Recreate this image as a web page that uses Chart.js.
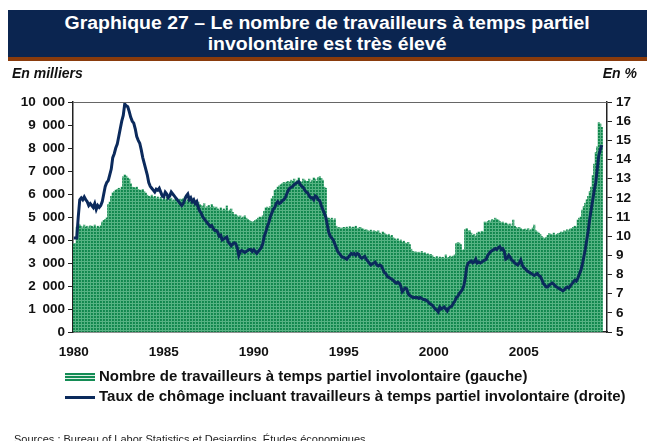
<!DOCTYPE html>
<html lang="fr">
<head>
<meta charset="utf-8">
<script src="https://cdn.jsdelivr.net/npm/chart.js@4.4.1/dist/chart.umd.min.js"></script>
<style>
  body { margin: 0; width: 658px; height: 441px; overflow: hidden; background: #fff; position: relative;
         font-family: "Liberation Sans", Arial, sans-serif; }
  #graph { position: absolute; left: 0; top: 0; }
  #titre { position: absolute; left: 8px; top: 10px; width: 639px; height: 51px; box-sizing: border-box;
           background: #0b2550; border-bottom: 4px solid #8a3b0c; color: #fff; font-weight: bold;
           font-size: 18px; line-height: 21px; text-align: center; padding-top: 3px; }
  #titre span { display: inline-block; transform: scaleX(1.08); }
  .unite { position: absolute; top: 65px; font-size: 14px; font-weight: bold; font-style: italic; color: #111; }
  .leg { position: absolute; left: 65px; font-size: 15px; font-weight: bold; color: #111; white-space: nowrap; }
  .leg span { display: inline-block; width: 30px; vertical-align: middle; margin-right: 4px; }
  #source { position: absolute; left: 14px; top: 433px; font-size: 11px; color: #222; white-space: nowrap; }
</style>
</head>
<body>
<canvas id="graph" width="658" height="441"></canvas>
<div id="titre"><span>Graphique 27 – Le nombre de travailleurs à temps partiel<br>involontaire est très élevé</span></div>
<div class="unite" style="left:12px">En milliers</div>
<div class="unite" style="right:21px">En %</div>
<div class="leg" style="top:367px"><span style="height:8px;background:repeating-linear-gradient(#148c55 0 2px,#dff0e6 2px 3px)"></span>Nombre de travailleurs à temps partiel involontaire (gauche)</div>
<div class="leg" style="top:387px"><span style="height:3px;background:#0b2a5c"></span>Taux de chômage incluant travailleurs à temps partiel involontaire (droite)</div>
<div id="source">Sources : Bureau of Labor Statistics et Desjardins, Études économiques</div>
<script>
// Données mensuelles, janvier 1980 à mai 2009

// travailleurs à temps partiel involontaire, en milliers (axe de gauche)
var partielMilliers = [
  3830, 3850, 4560, 4700, 4650, 4600, 4520, 4650, 4560, 4600, 4520, 4620, // 1980
  4600, 4560, 4650, 4520, 4600, 4550, 4620, 4780, 4850, 4900, 4960, 5550, // 1981
  5650, 5900, 6050, 6100, 6170, 6200, 6250, 6200, 6300, 6750, 6830, 6780, // 1982
  6700, 6650, 6450, 6300, 6280, 6260, 6300, 6200, 6170, 6150, 6200, 6100, // 1983
  6040, 5950, 5900, 5870, 5950, 5850, 5900, 5800, 5870, 5780, 5850, 5750, // 1984
  5800, 5750, 5850, 5700, 5780, 5820, 5700, 5750, 5800, 5650, 5700, 5780, // 1985
  5750, 5800, 5870, 5700, 5750, 5820, 5700, 5650, 5750, 5700, 5600, 5650, // 1986
  5550, 5500, 5450, 5580, 5400, 5450, 5500, 5420, 5550, 5450, 5400, 5430, // 1987
  5350, 5300, 5400, 5280, 5350, 5300, 5480, 5250, 5300, 5350, 5200, 5100, // 1988
  5100, 5050, 5000, 5050, 4950, 5000, 5050, 4950, 4900, 4850, 4800, 4780, // 1989
  4800, 4850, 4900, 4950, 5000, 4980, 5050, 5250, 5400, 5430, 5380, 5450, // 1990
  5800, 5900, 6150, 6200, 6300, 6350, 6400, 6450, 6500, 6480, 6520, 6550, // 1991
  6500, 6600, 6550, 6650, 6520, 6600, 6700, 6550, 6500, 6650, 6600, 6550, // 1992
  6550, 6650, 6500, 6600, 6700, 6650, 6550, 6720, 6750, 6680, 6600, 6300, // 1993
  6250, 4960, 4950, 4900, 4950, 4850, 4920, 4600, 4520, 4550, 4500, 4520, // 1994
  4550, 4520, 4560, 4500, 4580, 4520, 4560, 4540, 4600, 4500, 4520, 4550, // 1995
  4500, 4480, 4420, 4450, 4400, 4380, 4430, 4350, 4400, 4380, 4350, 4400, // 1996
  4300, 4250, 4350, 4300, 4250, 4200, 4250, 4150, 4200, 4100, 4050, 4000, // 1997
  4050, 3950, 4000, 3900, 3950, 3870, 3850, 3900, 3800, 3600, 3500, 3480, // 1998
  3480, 3450, 3470, 3430, 3500, 3420, 3450, 3380, 3400, 3350, 3370, 3320, // 1999
  3250, 3220, 3280, 3200, 3260, 3230, 3250, 3200, 3350, 3220, 3240, 3300, // 2000
  3250, 3300, 3350, 3850, 3880, 3870, 3800, 3550, 3580, 4450, 4500, 4400, // 2001
  4400, 4300, 4200, 4250, 4150, 4300, 4350, 4300, 4380, 4350, 4780, 4750, // 2002
  4800, 4850, 4780, 4900, 4850, 4950, 4900, 4870, 4800, 4750, 4780, 4700, // 2003
  4740, 4700, 4650, 4700, 4600, 4870, 4600, 4550, 4500, 4550, 4500, 4450, // 2004
  4450, 4480, 4420, 4500, 4400, 4450, 4520, 4650, 4400, 4350, 4300, 4250, // 2005
  4150, 4100, 4050, 4120, 4200, 4280, 4250, 4220, 4300, 4200, 4250, 4280, // 2006
  4300, 4350, 4320, 4400, 4380, 4450, 4400, 4480, 4500, 4550, 4600, 4560, // 2007
  4870, 4950, 5000, 5300, 5450, 5600, 5750, 5900, 6100, 6300, 6800, 7300, // 2008
  7800, 8050, 9100, 9050, 8900                                            // 2009
];

// taux de chômage incluant le temps partiel involontaire, en % (axe de droite)
var tauxChomage = [
  9.9, 9.9, 9.9, 11.0, 11.9, 12.0, 11.9, 12.05, 11.9, 11.8, 11.6, 11.7,      // 1980
  11.6, 11.5, 11.7, 11.4, 11.6, 11.5, 11.6, 11.8, 12.2, 12.6, 12.8, 12.9,    // 1981
  13.2, 13.5, 14.1, 14.3, 14.6, 14.8, 15.2, 15.6, 16.0, 16.3, 16.9, 16.8,    // 1982
  16.75, 16.5, 16.2, 16.0, 15.9, 15.6, 15.2, 15.0, 14.85, 14.5, 14.1, 13.8,  // 1983
  13.5, 13.2, 12.8, 12.6, 12.5, 12.4, 12.3, 12.45, 12.4, 12.5, 12.3, 12.1,   // 1984
  12.05, 12.3, 12.2, 12.0, 12.1, 12.3, 12.2, 12.1, 12.0, 11.9, 11.8, 11.7,   // 1985
  11.6, 11.7, 11.9, 12.1, 12.2, 11.9, 12.0, 11.8, 11.9, 11.7, 11.8, 11.5,    // 1986
  11.3, 11.2, 11.0, 10.9, 10.8, 10.7, 10.6, 10.5, 10.55, 10.4, 10.3, 10.3,   // 1987
  10.2, 10.0, 10.05, 9.8, 9.85, 9.9, 9.95, 9.7, 9.6, 9.5, 9.6, 9.65,         // 1988
  9.6, 9.4, 9.0, 9.2, 9.25, 9.2, 9.15, 9.2, 9.25, 9.3, 9.3, 9.2,             // 1989
  9.3, 9.2, 9.1, 9.2, 9.3, 9.4, 9.6, 10.0, 10.2, 10.5, 10.7, 11.0,           // 1990
  11.2, 11.4, 11.5, 11.7, 11.8, 11.7, 11.75, 11.85, 11.9, 12.0, 12.2, 12.4,  // 1991
  12.5, 12.55, 12.6, 12.7, 12.75, 12.8, 12.85, 12.7, 12.6, 12.55, 12.4, 12.3,// 1992
  12.25, 12.1, 12.0, 12.0, 11.9, 12.1, 12.05, 11.9, 11.85, 11.6, 11.4, 11.2, // 1993
  11.0, 10.6, 10.2, 10.0, 9.9, 9.8, 9.6, 9.4, 9.2, 9.1, 9.0, 8.9,            // 1994
  8.9, 8.85, 8.8, 8.9, 9.0, 9.1, 9.05, 9.1, 9.0, 9.1, 9.05, 8.9,             // 1995
  8.85, 8.9, 8.95, 8.8, 8.7, 8.6, 8.5, 8.55, 8.6, 8.65, 8.5, 8.45,           // 1996
  8.5, 8.45, 8.3, 8.1, 8.05, 7.9, 7.85, 7.8, 7.75, 7.7, 7.6, 7.55,           // 1997
  7.6, 7.55, 7.4, 7.1, 7.2, 7.3, 7.25, 7.0, 6.9, 6.85, 6.8, 6.8,             // 1998
  6.8, 6.8, 6.75, 6.8, 6.75, 6.7, 6.7, 6.65, 6.6, 6.5, 6.45, 6.4,            // 1999
  6.3, 6.2, 6.15, 6.05, 6.3, 6.2, 6.25, 6.3, 6.2, 6.1, 6.25, 6.3,            // 2000
  6.35, 6.5, 6.6, 6.8, 6.85, 7.0, 7.1, 7.2, 7.4, 7.8, 8.4, 8.6,              // 2001
  8.65, 8.7, 8.6, 8.65, 8.8, 8.6, 8.65, 8.6, 8.65, 8.7, 8.75, 8.8,           // 2002
  9.0, 9.1, 9.2, 9.25, 9.3, 9.35, 9.3, 9.4, 9.45, 9.3, 9.35, 9.2,            // 2003
  8.8, 8.85, 9.0, 8.9, 8.75, 8.7, 8.6, 8.55, 8.5, 8.6, 8.75, 8.5,            // 2004
  8.35, 8.3, 8.2, 8.15, 8.1, 8.05, 8.0, 7.95, 8.0, 8.05, 7.95, 7.9,          // 2005
  7.75, 7.55, 7.45, 7.35, 7.35, 7.45, 7.5, 7.55, 7.5, 7.4, 7.35, 7.3,        // 2006
  7.25, 7.2, 7.15, 7.2, 7.3, 7.35, 7.3, 7.4, 7.5, 7.6, 7.7, 7.65,            // 2007
  7.8, 8.0, 8.2, 8.5, 8.9, 9.3, 9.8, 10.3, 10.9, 11.4, 11.9, 12.4,           // 2008
  12.8, 13.5, 14.2, 14.5, 14.75                                              // 2009
];

// années affichées sous l'axe
var anneesAffichees = ['1980', '1985', '1990', '1995', '2000', '2005'];

// catégories mensuelles (l'axe va jusqu'en août 2009)
var mois = [];
for (var a = 1980; a <= 2009; a++) {
  for (var m = 1; m <= 12; m++) {
    if (a === 2009 && m > 8) break;
    mois.push(a + '-' + (m < 10 ? '0' + m : m));
  }
}

function motifVert(ctx) {
  var c = document.createElement('canvas');
  c.width = 3; c.height = 3;
  var g = c.getContext('2d');
  g.fillStyle = '#10874d';
  g.fillRect(0, 0, 3, 3);
  g.fillStyle = '#55b282';
  g.fillRect(0, 0, 3, 1);
  g.fillRect(0, 0, 1, 3);
  return ctx.createPattern(c, 'repeat');
}

function milliers(v) {
  if (v === 0) return '0';
  return Math.floor(v / 1000) + '\u2002000';
}

// ligne du haut du cadre
var cadre = {
  id: 'cadre',
  afterDraw: function (chart) {
    var a = chart.chartArea, c = chart.ctx;
    c.save();
    c.strokeStyle = '#666';
    c.lineWidth = 1;
    c.beginPath();
    c.moveTo(a.left, a.top + 0.5);
    c.lineTo(a.right, a.top + 0.5);
    c.stroke();
    c.restore();
  }
};

Chart.defaults.font.family = "'Liberation Sans', Arial, sans-serif";
Chart.defaults.color = '#111';

var ctx = document.getElementById('graph').getContext('2d');
var policeAxe = { size: 13.5, weight: 'bold' };

var chartGraph = new Chart(ctx, {
  type: 'bar',
  data: {
    labels: mois,
    datasets: [{
      type: 'line',
      label: 'Taux de chômage incluant travailleurs à temps partiel involontaire (droite)',
      data: tauxChomage,
      yAxisID: 'y1',
      borderColor: '#0b2a5c',
      borderWidth: 3,
      pointRadius: 0,
      tension: 0,
      order: 0
    }, {
      label: 'Nombre de travailleurs à temps partiel involontaire (gauche)',
      data: partielMilliers,
      yAxisID: 'y',
      backgroundColor: motifVert(ctx),
      borderWidth: 0,
      barPercentage: 1,
      categoryPercentage: 1,
      order: 1
    }]
  },
  options: {
    responsive: false,
    animation: false,
    layout: { padding: { top: 102, bottom: 79, left: 0, right: 0 } },
    plugins: { legend: { display: false }, tooltip: { enabled: false } },
    scales: {
      x: {
        offset: true,
        grid: { display: false, drawTicks: false },
        border: { color: '#222', width: 1.5 },
        ticks: {
          autoSkip: false, maxRotation: 0, minRotation: 0, padding: 12, font: policeAxe,
          callback: function (v) {
            var l = this.getLabelForValue(v);
            var an = l.slice(0, 4);
            return (l.slice(5) === '01' && anneesAffichees.indexOf(an) >= 0) ? an : '';
          }
        },
        afterFit: function (s) { s.height = 30; }
      },
      y: {
        position: 'left', min: 0, max: 10000,
        ticks: { stepSize: 1000, autoSkip: false, padding: 3, font: policeAxe, callback: milliers },
        grid: { drawOnChartArea: false, tickLength: 5, color: '#222' },
        border: { color: '#222', width: 1.5 },
        afterFit: function (s) { s.width = 73; }
      },
      y1: {
        position: 'right', min: 5, max: 17,
        ticks: { stepSize: 1, autoSkip: false, padding: 4, font: policeAxe },
        grid: { drawOnChartArea: false, tickLength: 5, color: '#222' },
        border: { color: '#222', width: 1.5 },
        afterFit: function (s) { s.width = 51; }
      }
    }
  },
  plugins: [cadre]
});
</script>
</body>
</html>
